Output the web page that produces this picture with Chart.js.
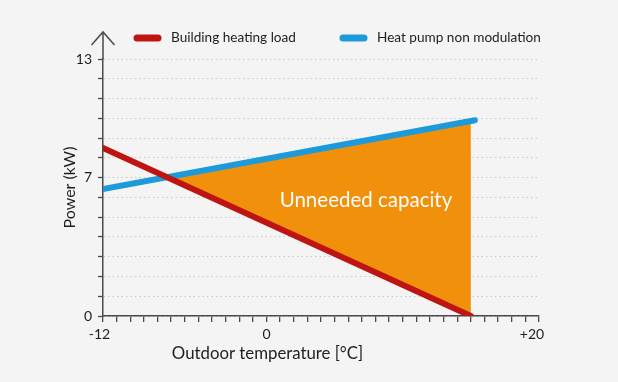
<!DOCTYPE html>
<html>
<head>
<meta charset="utf-8">
<script src="https://cdn.jsdelivr.net/npm/chart.js@4"></script>
<style>
  html, body { margin: 0; padding: 0; background: #f4f4f4; }
  #wrap { width: 618px; height: 382px; }
</style>
</head>
<body>
<div id="wrap"><canvas id="c" width="618" height="382"></canvas></div>
<script>
// ---- data ----
const loadTemps = [-12, 15];          // °C
const loadValues = [8.5, 0];          // kW  (Building heating load)
const pumpTemps = [-12, 15.3];        // °C
const pumpValues = [6.42, 9.9];       // kW  (Heat pump non modulation)
const seriesLabels = ['Building heating load', 'Heat pump non modulation'];
const xTickLabels = { '-12': '-12\u2002', '0': '0', '20': '+20\u2002\u2002' };
const yTickLabels = { '0': '0', '7': '7', '13': '13' };
const xTitle = 'Outdoor temperature [°C]';
const yTitle = 'Power (kW)';
const areaLabel = 'Unneeded capacity';
const areaLabelPos = { x: 7.3, y: 5.85 };

const RED = '#bf1512';
const BLUE = '#1d9ad9';
const ORANGE = '#f0900b';
const AXIS = '#4a4a4a';
const TEXT = '#1e1e1e';
const FONT = 'Lato, "Open Sans", sans-serif';

const toPts = (xs, ys) => xs.map((x, i) => ({ x, y: ys[i] }));

const extras = {
  id: 'extras',
  afterDraw(chart) {
    const ctx = chart.ctx;
    const xs = chart.scales.x, ys = chart.scales.y;
    const a = chart.chartArea;
    ctx.save();
    // y-axis extension + arrow
    ctx.strokeStyle = AXIS;
    ctx.lineWidth = 1.5;
    ctx.beginPath();
    ctx.moveTo(a.left, a.top);
    ctx.lineTo(a.left, 32);
    ctx.stroke();
    ctx.beginPath();
    ctx.moveTo(a.left - 11.5, 45);
    ctx.lineTo(a.left, 32);
    ctx.lineTo(a.left + 11.5, 45);
    ctx.stroke();
    // legend
    ctx.font = '13.6px ' + FONT;
    ctx.textBaseline = 'middle';
    const legendX = [134, 340];
    chart.data.datasets.forEach((ds, i) => {
      const lx = legendX[i], ly = 38;
      ctx.strokeStyle = ds.borderColor;
      ctx.lineWidth = 7;
      ctx.lineCap = 'round';
      ctx.beginPath();
      ctx.moveTo(lx + 3, ly);
      ctx.lineTo(lx + 24, ly);
      ctx.stroke();
      ctx.fillStyle = TEXT;
      ctx.textAlign = 'left';
      ctx.fillText(ds.label, lx + 37, ly);
    });
    // x-axis title
    ctx.font = '16.8px ' + FONT;
    ctx.fillStyle = TEXT;
    ctx.textAlign = 'center';
    ctx.fillText(xTitle, xs.getPixelForValue(0) + 1, 354);
    // area label
    ctx.font = '20.5px ' + FONT;
    ctx.fillStyle = '#ffffff';
    ctx.fillText(areaLabel, xs.getPixelForValue(areaLabelPos.x), ys.getPixelForValue(areaLabelPos.y));
    ctx.restore();
  }
};

new Chart(document.getElementById('c'), {
  type: 'line',
  data: {
    datasets: [
      {
        label: seriesLabels[0],
        data: toPts(loadTemps, loadValues),
        borderColor: RED,
        backgroundColor: RED,
        borderWidth: 6,
        borderCapStyle: 'round',
        pointRadius: 0,
        fill: false
      },
      {
        label: seriesLabels[1],
        data: toPts(pumpTemps, pumpValues),
        borderColor: BLUE,
        backgroundColor: BLUE,
        borderWidth: 6,
        borderCapStyle: 'round',
        pointRadius: 0,
        fill: { target: 0, above: ORANGE, below: 'rgba(0,0,0,0)' }
      }
    ]
  },
  options: {
    responsive: false,
    animation: false,
    events: [],
    layout: { padding: { left: 58, right: 79, top: 59, bottom: 0 } },
    plugins: {
      legend: { display: false },
      tooltip: { enabled: false }
    },
    scales: {
      x: {
        type: 'linear',
        min: -12, max: 20,
        afterFit: s => { s.height = 66; },
        border: { display: true, color: AXIS, width: 1.5 },
        grid: { drawOnChartArea: false, drawTicks: true, tickLength: 6, tickColor: AXIS, lineWidth: 1.3 },
        ticks: {
          stepSize: 1, autoSkip: false, maxRotation: 0, padding: 4,
          color: TEXT, font: { family: FONT, size: 14 },
          callback: v => xTickLabels[String(v)] ?? ''
        }
      },
      y: {
        min: 0, max: 13,
        afterFit: s => { s.width = 45; },
        border: { display: true, color: AXIS, width: 1.5, dash: [1.5, 3] },
        grid: { color: '#c9c9c9', lineWidth: 1, drawTicks: true, tickLength: 5, tickColor: AXIS, tickWidth: 1.3, tickBorderDash: [] },
        ticks: {
          stepSize: 1, autoSkip: false, padding: 6,
          color: TEXT, font: { family: FONT, size: 14 },
          callback: v => yTickLabels[String(v)] ?? ''
        },
        title: { display: true, text: yTitle, color: TEXT, font: { family: FONT, size: 16 }, padding: { top: 2, bottom: 0 } }
      }
    }
  },
  plugins: [extras]
});
</script>
</body>
</html>
